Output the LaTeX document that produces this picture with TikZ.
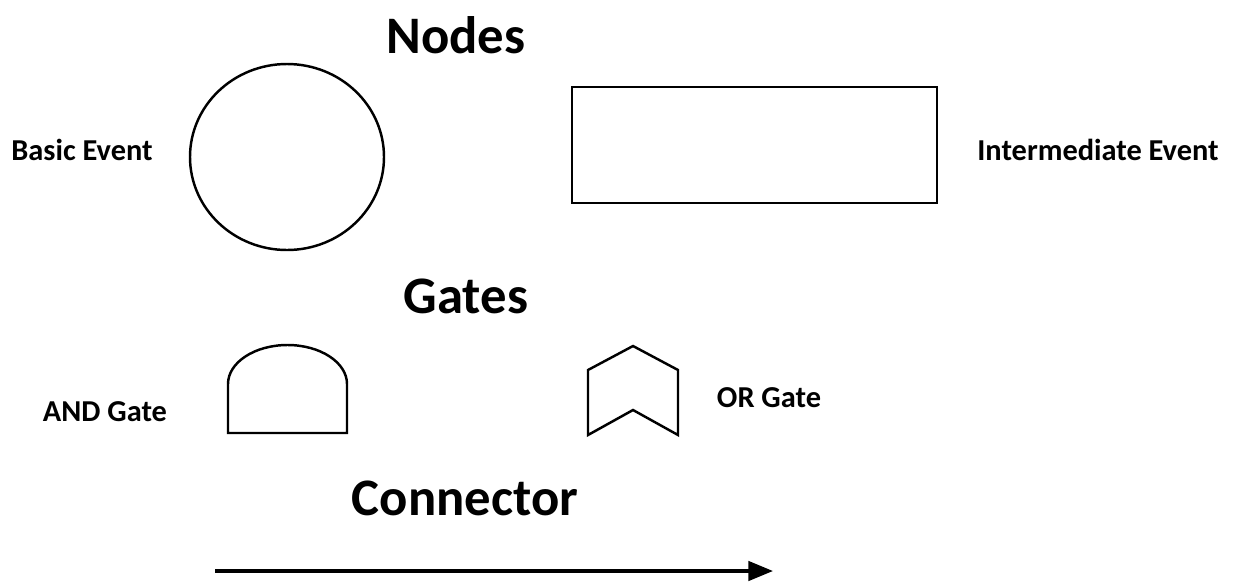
\documentclass[tikz,border=0pt]{standalone}
\usepackage{fontspec}
\setmainfont{Carlito}
\usetikzlibrary{arrows.meta}

\tikzset{
    heading/.style={font=\bfseries\fontsize{30}{34}\selectfont},
    caption/.style={font=\bfseries\fontsize{17.3}{20}\selectfont},
    outline/.style={draw, line width=1.4pt}
}

\begin{document}
\begin{tikzpicture}[x=0.02cm,y=-0.02cm]
        \useasboundingbox (0,0) rectangle (1233,582);
        % nodes
        \node[heading] (nodes) at (456,35) {Nodes};
        \draw[outline] (287,157) ellipse (97 and 93);
        \node[caption] (basic) at (82,150) {Basic Event};
        \draw[outline] (572,87) rectangle (937,203);
        \node[caption] (inter) at (1098,150) {Intermediate Event};
        % gates
        \node[heading] (gates) at (466,296) {Gates};
        \draw[outline] (228,433) -- (228,384) arc (180:360:59.5 and 39) -- (347,433) -- cycle;
        \node[caption] (andg) at (105,412) {AND Gate};
        \draw[outline] (633,346) -- (588,370) -- (588,435) -- (633,410) -- (678,435) -- (678,370) -- cycle;
        \node[caption] (org) at (769,398) {OR Gate};
        % connector
        \node[heading] (conn) at (465,498) {Connector};
        \coordinate (start) at (215,571);
        \coordinate (end) at (773,571);
        \draw[line width=2pt,-{Triangle[length=14pt,width=11pt]}] (start) -- (end);
    \end{tikzpicture}
\end{document}
